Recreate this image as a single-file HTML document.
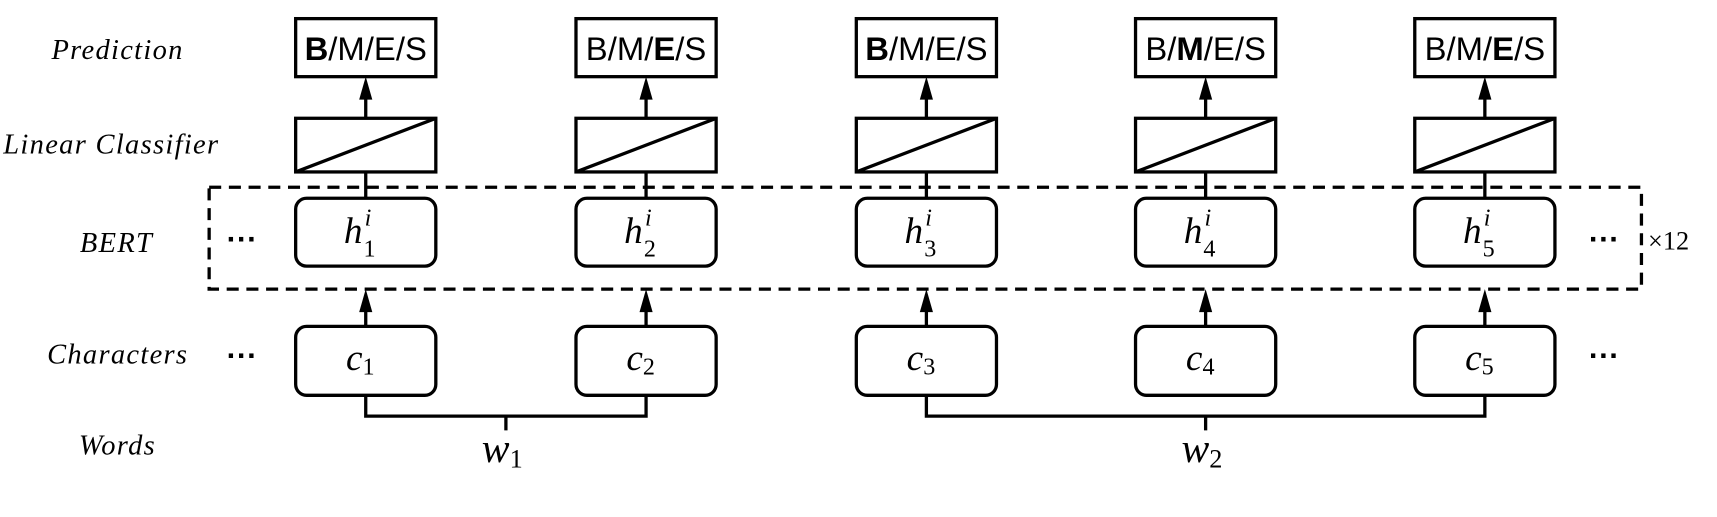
<!DOCTYPE html>
<html><head><meta charset="utf-8"><style>
html,body{margin:0;padding:0;background:#fff;}
svg{display:block;}
.lab{font-family:"Liberation Serif",serif;font-style:italic;font-size:26px;letter-spacing:1.2px;}
.pred{font-family:"Liberation Sans",sans-serif;font-size:30px;}
.math{font-family:"Liberation Serif",serif;font-style:italic;font-size:34px;}
.sub{font-family:"Liberation Serif",serif;font-size:22px;font-style:normal;}
.supi{font-family:"Liberation Serif",serif;font-size:22px;font-style:italic;}
</style></head><body>
<svg id="fig" width="1717" height="517" viewBox="0 0 1568 472.1" xmlns="http://www.w3.org/2000/svg">
<g>
<text class="lab" x="47" y="54">Prediction</text>
<text class="lab" x="3" y="140">Linear Classifier</text>
<text class="lab" x="73" y="230">BERT</text>
<text class="lab" x="43" y="332">Characters</text>
<text class="lab" x="72" y="415">Words</text>
</g>
<rect x="191" y="171" width="1308" height="93" fill="none" stroke="#000" stroke-width="3" stroke-dasharray="11,7"/>
<text x="1505" y="228" font-family="Liberation Serif,serif" font-size="24">×12</text>
<g font-family="Liberation Sans,sans-serif" font-size="28" font-weight="bold">
<text x="207" y="228">···</text>
<text x="1451" y="228">···</text>
<text x="207" y="334">···</text>
<text x="1451" y="334">···</text>
</g>
<g id="cols"></g>
<g fill="none" stroke="#000" stroke-width="3">
<path d="M334,361 V380 H590 V361 M462,380 V393"/>
<path d="M846,361 V380 H1356 V361 M1101,380 V393"/>
</g>
<text class="math" x="440" y="422" style="font-size:38px">w<tspan class="sub" style="font-size:24px" dy="5">1</tspan></text>
<text class="math" x="1079" y="422" style="font-size:38px">w<tspan class="sub" style="font-size:24px" dy="5">2</tspan></text>
<script>
const centers=[334,590,846,1101,1356];
const boldIdx=[0,2,0,1,2];
const letters=['B','M','E','S'];
const ns='http://www.w3.org/2000/svg';
const g=document.getElementById('cols');
function mk(t,a,p){const e=document.createElementNS(ns,t);for(const k in a)e.setAttribute(k,a[k]);(p||g).appendChild(e);return e;}
centers.forEach((cx,i)=>{
  const x=cx-64;
  const pb=mk('rect',{x:x,y:17,width:128,height:53,fill:'#fff',stroke:'#000','stroke-width':3});
  
  
  const t=mk('text',{x:cx,y:55,'text-anchor':'middle',class:'pred'});
  
  
  letters.forEach((L,j)=>{const s=mk('tspan',{},t);s.textContent=L;if(j===boldIdx[i])s.setAttribute('font-weight','bold');if(j<3){const sl=mk('tspan',{},t);sl.textContent='/';}});
  const ar=mk('line',{x1:cx,y1:108,x2:cx,y2:86,stroke:'#000','stroke-width':3});
  mk('path',{d:'M'+(cx-6)+',91 L'+cx+',70 L'+(cx+6)+',91 Z',fill:'#000'});
  
  
  const lc=mk('rect',{x:x,y:108,width:128,height:49,fill:'#fff',stroke:'#000','stroke-width':3});
  
  
  mk('line',{x1:x,y1:157,x2:x+128,y2:108,stroke:'#000','stroke-width':3});
  const ln=mk('line',{x1:cx,y1:157,x2:cx,y2:181,stroke:'#000','stroke-width':3});
  
  
  const hb=mk('rect',{x:x,y:181,width:128,height:62,rx:10,fill:'#fff',stroke:'#000','stroke-width':3});
  
  
  const ht=mk('text',{x:cx-20,y:222,class:'math'});
  
  
  ht.textContent='h';
  const sup=mk('tspan',{x:cx-1,y:206,class:'supi'},ht);sup.textContent='i';
  const sb=mk('tspan',{x:cx-2,y:234,class:'sub'},ht);sb.textContent=String(i+1);
  const a2=mk('line',{x1:cx,y1:298,x2:cx,y2:280,stroke:'#000','stroke-width':3});
  mk('path',{d:'M'+(cx-6)+',285 L'+cx+',264 L'+(cx+6)+',285 Z',fill:'#000'});
  
  
  const cb=mk('rect',{x:x,y:298,width:128,height:63,rx:10,fill:'#fff',stroke:'#000','stroke-width':3});
  
  
  const ct=mk('text',{x:cx-18,y:338,class:'math'});
  
  
  ct.textContent='c';
  const cs=mk('tspan',{class:'sub',dy:4},ct);cs.textContent=String(i+1);
});
</script>
</svg>
</body></html>
